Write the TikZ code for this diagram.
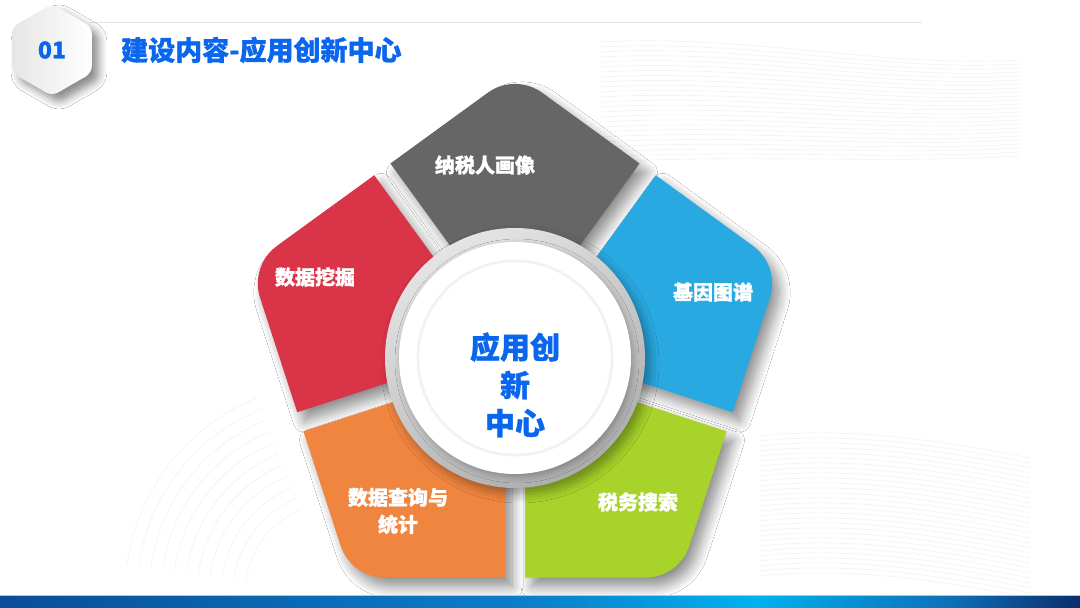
\documentclass[tikz,border=0pt]{standalone}
\usepackage{fontspec}
\newfontfamily\cjk{Noto Sans CJK SC}[BoldFeatures={FakeBold=1.2}]
\usetikzlibrary{calc,shadows.blur}
\definecolor{segGray}{HTML}{666666}
\definecolor{segRed}{HTML}{DA3448}
\definecolor{segBlue}{HTML}{29A9E1}
\definecolor{segGreen}{HTML}{A7D32A}
\definecolor{segOrange}{HTML}{F0853F}
\definecolor{textBlue}{HTML}{0B66EE}
\definecolor{ringLight}{HTML}{E4E4E4}
\definecolor{ringDark}{HTML}{ADADAD}
\definecolor{hexL}{HTML}{E6E6E6}
\definecolor{lineGray}{HTML}{E2E2E2}
\definecolor{bgLine}{HTML}{F2F2F2}
\definecolor{barA}{HTML}{0A4D98}
\definecolor{barB}{HTML}{0A80CC}
\definecolor{barC}{HTML}{00B2EE}
\definecolor{barE}{HTML}{0D6FB8}
\definecolor{barF}{HTML}{0B2D6B}
\definecolor{barTop}{HTML}{8ED2F4}
\pgfdeclarehorizontalshading{barshade}{100bp}{color(0bp)=(barA); color(25bp)=(barA); color(50bp)=(barB); color(60bp)=(barC); color(69bp)=(barE); color(75bp)=(barF); color(100bp)=(barF)}
\begin{document}
\begin{tikzpicture}[x=1pt,y=1pt,
  seglabel/.style={font=\cjk\bfseries\fontsize{20}{27}\selectfont, text=white, align=center, inner sep=0pt},
  segshadow/.style={blur shadow={shadow xshift=7pt, shadow yshift=-9pt, shadow blur radius=11pt, shadow blur steps=12, shadow opacity=45}},
  bgline/.style={draw=bgLine, line width=0.6pt}]
\useasboundingbox (0,0) rectangle (1080,608);
\fill[white] (0,0) rectangle (1080,608);

% faint background texture
\foreach \i in {0,...,24}
  \draw[bgline] (600,{566-5*\i}) .. controls (750,{574-5*\i}) and (880,{540-4*\i}) .. (1020,{548-4*\i});
\foreach \i in {0,...,28}
  \draw[bgline] (760,{172-5*\i}) .. controls (850,{182-5*\i}) and (950,{166-5*\i}) .. (1030,{150-5*\i});
\foreach \r in {90,102,...,210}
  \draw[bgline] (335,15) ++(112:\r) arc[start angle=112, end angle=172, radius=\r];

% top rule
\coordinate (hl1) at (90,585.5);
\coordinate (hl2) at (922,585.5);
\draw[lineGray, line width=1.2pt] (hl1) -- (hl2);

% hexagon badge
\coordinate (H) at (52,558);
\shade[left color=hexL, right color=white, rounded corners=7pt,
  blur shadow={shadow xshift=7pt, shadow yshift=-7pt, shadow blur radius=8pt, shadow opacity=45}]
  ($(H)+(90:46)$) -- ($(H)+(30:46)$) -- ($(H)+(-30:46)$) -- ($(H)+(-90:46)$) -- ($(H)+(-150:46)$) -- ($(H)+(150:46)$) -- cycle;
\node[font=\cjk\bfseries\fontsize{23}{26}\selectfont, text=textBlue] (num) at (H) {01};
\node[font=\cjk\bfseries\fontsize{27}{30}\selectfont, text=textBlue, anchor=west, inner sep=0pt] (title) at (121,558) {建设内容-应用创新中心};

% pentagon segments
\coordinate (P) at (515,256);
\foreach \a/\c in {90/segGray,162/segRed,234/segOrange,306/segGreen,18/segBlue}{
  \coordinate (V) at ($(P)+(\a:279)$);
  \fill[fill=\c, segshadow]
    ($(P)+({\a-36}:117.6)+({\a+54}:10)$) --
    ($(P)+({\a-36}:225.7)+({\a+54}:10)$) --
    ($(V)+({\a-126}:34)$) .. controls ($(V)+({\a-126}:13.5)$) and ($(V)+({\a+126}:13.5)$) ..
    ($(V)+({\a+126}:34)$) --
    ($(P)+({\a+36}:225.7)+({\a-54}:10)$) --
    ($(P)+({\a+36}:117.6)+({\a-54}:10)$)
    arc[start angle={\a+36-4.86}, end angle={\a-36+4.86}, radius=118] -- cycle;
}

% centre ring and disc
\coordinate (C) at (515,250);
\shade[top color=ringLight, bottom color=ringDark, shading angle=30,
  blur shadow={shadow xshift=5pt, shadow yshift=-6pt, shadow blur radius=9pt, shadow opacity=35}]
  (C) circle (130);
\fill[white, blur shadow={shadow xshift=2pt, shadow yshift=-3pt, shadow blur radius=6pt, shadow opacity=25}] (C) circle (116);
\draw[draw=ringLight!50, line width=3pt] (C) circle (97);
\fill[white] (C) circle (95.5);

% labels
\node[seglabel] (l1) at (485,443) {纳税人画像};
\node[seglabel] (l2) at (315,331) {数据挖掘};
\node[seglabel] (l3) at (713,316) {基因图谱};
\node[seglabel] (l4) at (398,97) {数据查询与\\统计};
\node[seglabel] (l5) at (638,106) {税务搜索};
\node[font=\cjk\bfseries\fontsize{30}{38}\selectfont, text=textBlue, align=center, inner sep=0pt] (ctr) at (515,223) {应用创\\新\\中心};

% bottom bar
\coordinate (b1) at (0,0);
\coordinate (b2) at (1080,12);
\shade[shading=barshade] (b1) rectangle (b2);
\coordinate (bt1) at (0,12.5);
\coordinate (bt2) at (1080,12.5);
\draw[barTop, line width=1pt] (bt1) -- (bt2);
\end{tikzpicture}
\end{document}
